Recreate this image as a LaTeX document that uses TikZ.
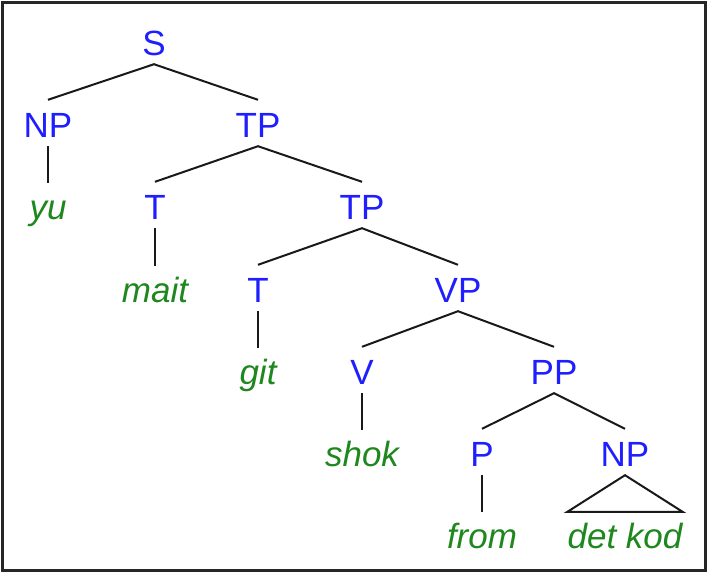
\documentclass[tikz,border=0pt]{standalone}
\usepackage{fontspec}
\setmainfont{Liberation Sans}
\definecolor{catblue}{RGB}{30,30,255}
\definecolor{wordgreen}{RGB}{30,135,30}
\tikzset{
  cat/.style={anchor=base, inner sep=0pt, text height=37pt, text depth=9pt,
    text=catblue, font=\fontsize{35}{42}\selectfont},
  word/.style={anchor=base, inner sep=0pt, text height=36pt, text depth=9pt,
    text=wordgreen, font=\fontsize{35}{42}\selectfont\itshape},
  branch/.style={line width=2pt, black!90},
}
\begin{document}
\begin{tikzpicture}[x=1pt, y=-1pt]
  \useasboundingbox (0,0) rectangle (708,573);
  \draw[line width=3pt, black!85] (2.5,2.5) rectangle (705.5,570);

  % categories
  \node[cat] (s)   at (154,55)  {S};
  \node[cat] (np1) at (48,137)  {NP};
  \node[cat] (tp1) at (258,137) {TP};
  \node[cat] (t1)  at (155,219) {T};
  \node[cat] (tp2) at (362,219) {TP};
  \node[cat] (t2)  at (258,302) {T};
  \node[cat] (vp)  at (458,302) {VP};
  \node[cat] (v)   at (362,384) {V};
  \node[cat] (pp)  at (554,384) {PP};
  \node[cat] (p)   at (482,466) {P};
  \node[cat] (np2) at (625,466) {NP};

  % words
  \node[word] (yu)   at (48,219)  {yu};
  \node[word] (mait) at (155,302) {mait};
  \node[word] (git)  at (258,384) {git};
  \node[word] (shok) at (362,466) {shok};
  \node[word] (from) at (482,548) {from};
  \node[word] (det)  at (625,548) {det kod};

  % branches
  \draw[branch] (np1.north) -- (s.south) -- (tp1.north);
  \draw[branch] (t1.north) -- (tp1.south) -- (tp2.north);
  \draw[branch] (t2.north) -- (tp2.south) -- (vp.north);
  \draw[branch] (v.north) -- (vp.south) -- (pp.north);
  \draw[branch] (p.north) -- (pp.south) -- (np2.north);
  \draw[branch] (np1.south) -- (yu.north);
  \draw[branch] (t1.south) -- (mait.north);
  \draw[branch] (t2.south) -- (git.north);
  \draw[branch] (v.south) -- (shok.north);
  \draw[branch] (p.south) -- (from.north);
  \draw[branch] (det.north west) -- (np2.south) -- (det.north east) -- cycle;
\end{tikzpicture}
\end{document}
